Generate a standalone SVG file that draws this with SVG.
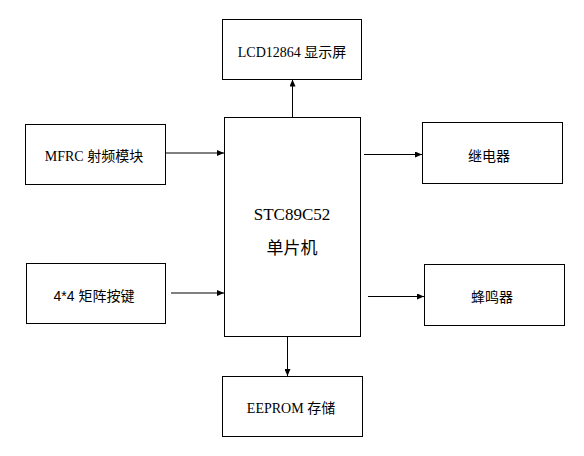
<svg xmlns="http://www.w3.org/2000/svg" width="584" height="456" viewBox="0 0 584 456">
<style>
.box{fill:#fff;stroke:#000;stroke-width:1}
.serif{font-family:"Liberation Serif","Noto Sans CJK SC",serif;font-size:14px;fill:#000;text-anchor:middle}
.sans{font-family:"Liberation Sans","Noto Sans CJK SC",sans-serif;font-size:14px;fill:#000;text-anchor:middle}
.big{font-size:17px}
.conn{stroke:#000;stroke-width:1;fill:none;marker-end:url(#ah)}
</style>
<defs>
<marker id="ah" markerUnits="userSpaceOnUse" markerWidth="8" markerHeight="6" refX="7" refY="3" orient="auto">
<path d="M0,0 L7,3 L0,6 z" fill="#000"/>
</marker>
</defs>
<rect width="584" height="456" fill="#fff"/>
<g id="connectors">
<line class="conn" x1="292.5" y1="117" x2="292.5" y2="79.5"/>
<line class="conn" x1="166" y1="153" x2="224" y2="153"/>
<line class="conn" x1="171" y1="293" x2="224" y2="293"/>
<line class="conn" x1="364" y1="154.5" x2="422" y2="154.5"/>
<line class="conn" x1="368" y1="296.5" x2="424" y2="296.5"/>
<line class="conn" x1="287.5" y1="337" x2="287.5" y2="376"/>
</g>
<g id="mcu">
<rect class="box" x="224.5" y="117.5" width="136" height="219"/>
<text class="serif big" x="292" y="220">STC89C52</text>
<text class="serif big" x="292" y="254">单片机</text>
</g>
<g id="lcd">
<rect class="box" x="222.5" y="19.5" width="139" height="60"/>
<text class="serif" x="292" y="57">LCD12864 显示屏</text>
</g>
<g id="mfrc">
<rect class="box" x="25.5" y="124.5" width="140" height="60"/>
<text class="serif" x="94" y="161">MFRC 射频模块</text>
</g>
<g id="keypad">
<rect class="box" x="26.5" y="263.5" width="139" height="60"/>
<text class="sans" x="94" y="301">4*4 矩阵按键</text>
</g>
<g id="relay">
<rect class="box" x="422.5" y="122.5" width="140" height="61"/>
<text class="sans" x="489" y="161">继电器</text>
</g>
<g id="buzzer">
<rect class="box" x="424.5" y="264.5" width="140" height="61"/>
<text class="sans" x="492" y="302">蜂鸣器</text>
</g>
<g id="eeprom">
<rect class="box" x="222.5" y="376.5" width="140" height="60"/>
<text class="serif" x="291" y="413">EEPROM 存储</text>
</g>
</svg>
